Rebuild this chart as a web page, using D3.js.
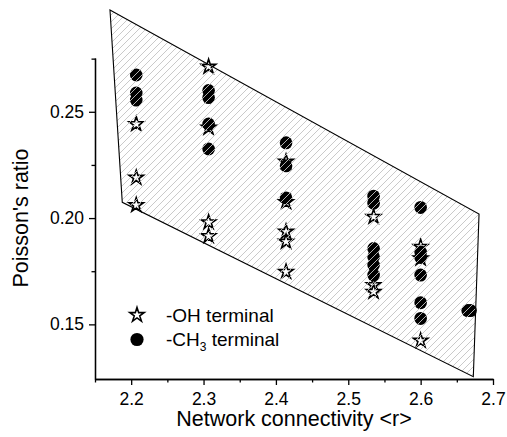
<!DOCTYPE html>
<html>
<head>
<meta charset="utf-8">
<script src="https://cdn.jsdelivr.net/npm/d3@7/dist/d3.min.js"></script>
<style>
  html, body { margin: 0; padding: 0; background: #fff; }
  svg { display: block; }
  text { font-family: "Liberation Sans", Arial, sans-serif; fill: #000; }
</style>
</head>
<body>
<svg id="chart" width="507" height="437"></svg>
<script>
// -OH terminated networks: connectivity <r> and Poisson's ratio
const ohConnectivity = [2.207, 2.207, 2.207,
  2.307, 2.307, 2.307, 2.307,
  2.414, 2.414, 2.414, 2.414, 2.414,
  2.535, 2.535, 2.535,
  2.6, 2.6, 2.6];
const ohPoisson = [0.2442, 0.219, 0.2061,
  0.2712, 0.2425, 0.198, 0.1915,
  0.2265, 0.2075, 0.1936, 0.1889, 0.1747,
  0.2006, 0.1685, 0.1653,
  0.1865, 0.181, 0.1423];

// -CH3 terminated networks
const ch3Connectivity = [2.207, 2.207, 2.207,
  2.307, 2.307, 2.307, 2.307,
  2.414, 2.414, 2.414,
  2.535, 2.535, 2.535, 2.535, 2.535, 2.535,
  2.6, 2.6, 2.6, 2.6, 2.6, 2.6,
  2.665, 2.669];
const ch3Poisson = [0.2673, 0.2588, 0.2555,
  0.26, 0.2567, 0.2442, 0.2325,
  0.2354, 0.2246, 0.2095,
  0.2103, 0.207, 0.1857, 0.1818, 0.1779, 0.1732,
  0.205, 0.184, 0.1815, 0.1732, 0.1602, 0.1528,
  0.1565, 0.1565];

// Shaded region enclosing both series
const regionConnectivity = [2.1707, 2.6807, 2.6728, 2.1877];
const regionPoisson = [0.2979, 0.2019, 0.1254, 0.2074];

const xMajorTicks = [2.2, 2.3, 2.4, 2.5, 2.6, 2.7];
const xMinorTicks = [2.15, 2.25, 2.35, 2.45, 2.55, 2.65];
const yMajorTicks = [0.15, 0.20, 0.25];
const yMinorTicks = [0.175, 0.225, 0.275];

const svg = d3.select("#chart");

const x = d3.scaleLinear().domain([2.15, 2.7]).range([95, 493]);
const y = d3.scaleLinear().domain([0.1243, 0.2753]).range([379, 58]);

// hatch pattern for the region
const defs = svg.append("defs");
const pat = defs.append("pattern")
  .attr("id", "hatch")
  .attr("patternUnits", "userSpaceOnUse")
  .attr("width", 7).attr("height", 7);
pat.append("path")
  .attr("d", "M-1,1 L1,-1 M0,7 L7,0 M6,8 L8,6")
  .attr("stroke", "#c4c4c4")
  .attr("stroke-width", 0.9);

// axes
const xAxisMajor = d3.axisBottom(x).tickValues(xMajorTicks)
  .tickFormat(d3.format(".1f")).tickSize(6).tickSizeOuter(0);
const xAxisMinor = d3.axisBottom(x).tickValues(xMinorTicks)
  .tickFormat("").tickSize(3.5).tickSizeOuter(0);
const yAxisMajor = d3.axisLeft(y).tickValues(yMajorTicks)
  .tickFormat(d3.format(".2f")).tickSize(6).tickSizeOuter(0);
const yAxisMinor = d3.axisLeft(y).tickValues(yMinorTicks)
  .tickFormat("").tickSize(3.5).tickSizeOuter(0);

function styleAxis(g) {
  g.select(".domain").attr("stroke", "#000").attr("stroke-width", 1.3);
  g.selectAll(".tick line").attr("stroke", "#000").attr("stroke-width", 1.3);
  g.selectAll(".tick text")
    .attr("font-size", 17.5)
    .attr("font-family", "Liberation Sans, Arial, sans-serif")
    .attr("fill", "#000");
}

svg.append("g").attr("transform", `translate(0,${y.range()[0]})`)
  .call(xAxisMinor).call(styleAxis);
svg.append("g").attr("transform", `translate(0,${y.range()[0]})`)
  .call(xAxisMajor).call(styleAxis)
  .selectAll(".tick text").attr("dy", "0.95em");
svg.append("g").attr("transform", `translate(${x.range()[0]},0)`)
  .call(yAxisMinor).call(styleAxis);
svg.append("g").attr("transform", `translate(${x.range()[0]},0)`)
  .call(yAxisMajor).call(styleAxis)
  .selectAll(".tick text").attr("x", -11);

// axis titles
svg.append("text")
  .attr("x", (x.range()[0] + x.range()[1]) / 2)
  .attr("y", 426)
  .attr("text-anchor", "middle")
  .attr("font-size", 21.5)
  .text("Network connectivity <r>");

svg.append("text")
  .attr("transform", "translate(28,218) rotate(-90)")
  .attr("text-anchor", "middle")
  .attr("font-size", 21.5)
  .text("Poisson's ratio");

// star symbol
const starPath = d3.symbol().type(d3.symbolStar).size(64)();

const ohData = ohConnectivity.map((c, i) => [c, ohPoisson[i]]);
const ch3Data = ch3Connectivity.map((c, i) => [c, ch3Poisson[i]]);

svg.append("g").selectAll("path").data(ohData).join("path")
  .attr("d", starPath)
  .attr("transform", d => `translate(${x(d[0])},${y(d[1])})`)
  .attr("fill", "#fff")
  .attr("stroke", "#000")
  .attr("stroke-width", 1.6)
  .attr("stroke-linejoin", "miter");

svg.append("g").selectAll("ellipse").data(ch3Data).join("ellipse")
  .attr("cx", d => x(d[0]))
  .attr("cy", d => y(d[1]))
  .attr("rx", 6.3).attr("ry", 6.5)
  .attr("fill", "#000");

// hatched region drawn over the markers
const regionLine = d3.line().x(d => x(d[0])).y(d => y(d[1]));
svg.append("path")
  .datum(regionConnectivity.map((c, i) => [c, regionPoisson[i]]))
  .attr("d", d => regionLine(d) + "Z")
  .attr("fill", "url(#hatch)")
  .attr("stroke", "#000")
  .attr("stroke-width", 1.1);

// legend
const legend = svg.append("g");
legend.append("path")
  .attr("d", starPath)
  .attr("transform", "translate(137,315)")
  .attr("fill", "#fff").attr("stroke", "#000").attr("stroke-width", 1.6);
legend.append("text")
  .attr("x", 166).attr("y", 321.5)
  .attr("font-size", 19)
  .text("-OH terminal");
legend.append("circle")
  .attr("cx", 137).attr("cy", 339.5).attr("r", 6.6)
  .attr("fill", "#000");
const t2 = legend.append("text")
  .attr("x", 166).attr("y", 345.5)
  .attr("font-size", 19);
t2.append("tspan").text("-CH");
t2.append("tspan").attr("font-size", 12).attr("dy", 5).text("3");
t2.append("tspan").attr("dy", -5).text(" terminal");
</script>
</body>
</html>
